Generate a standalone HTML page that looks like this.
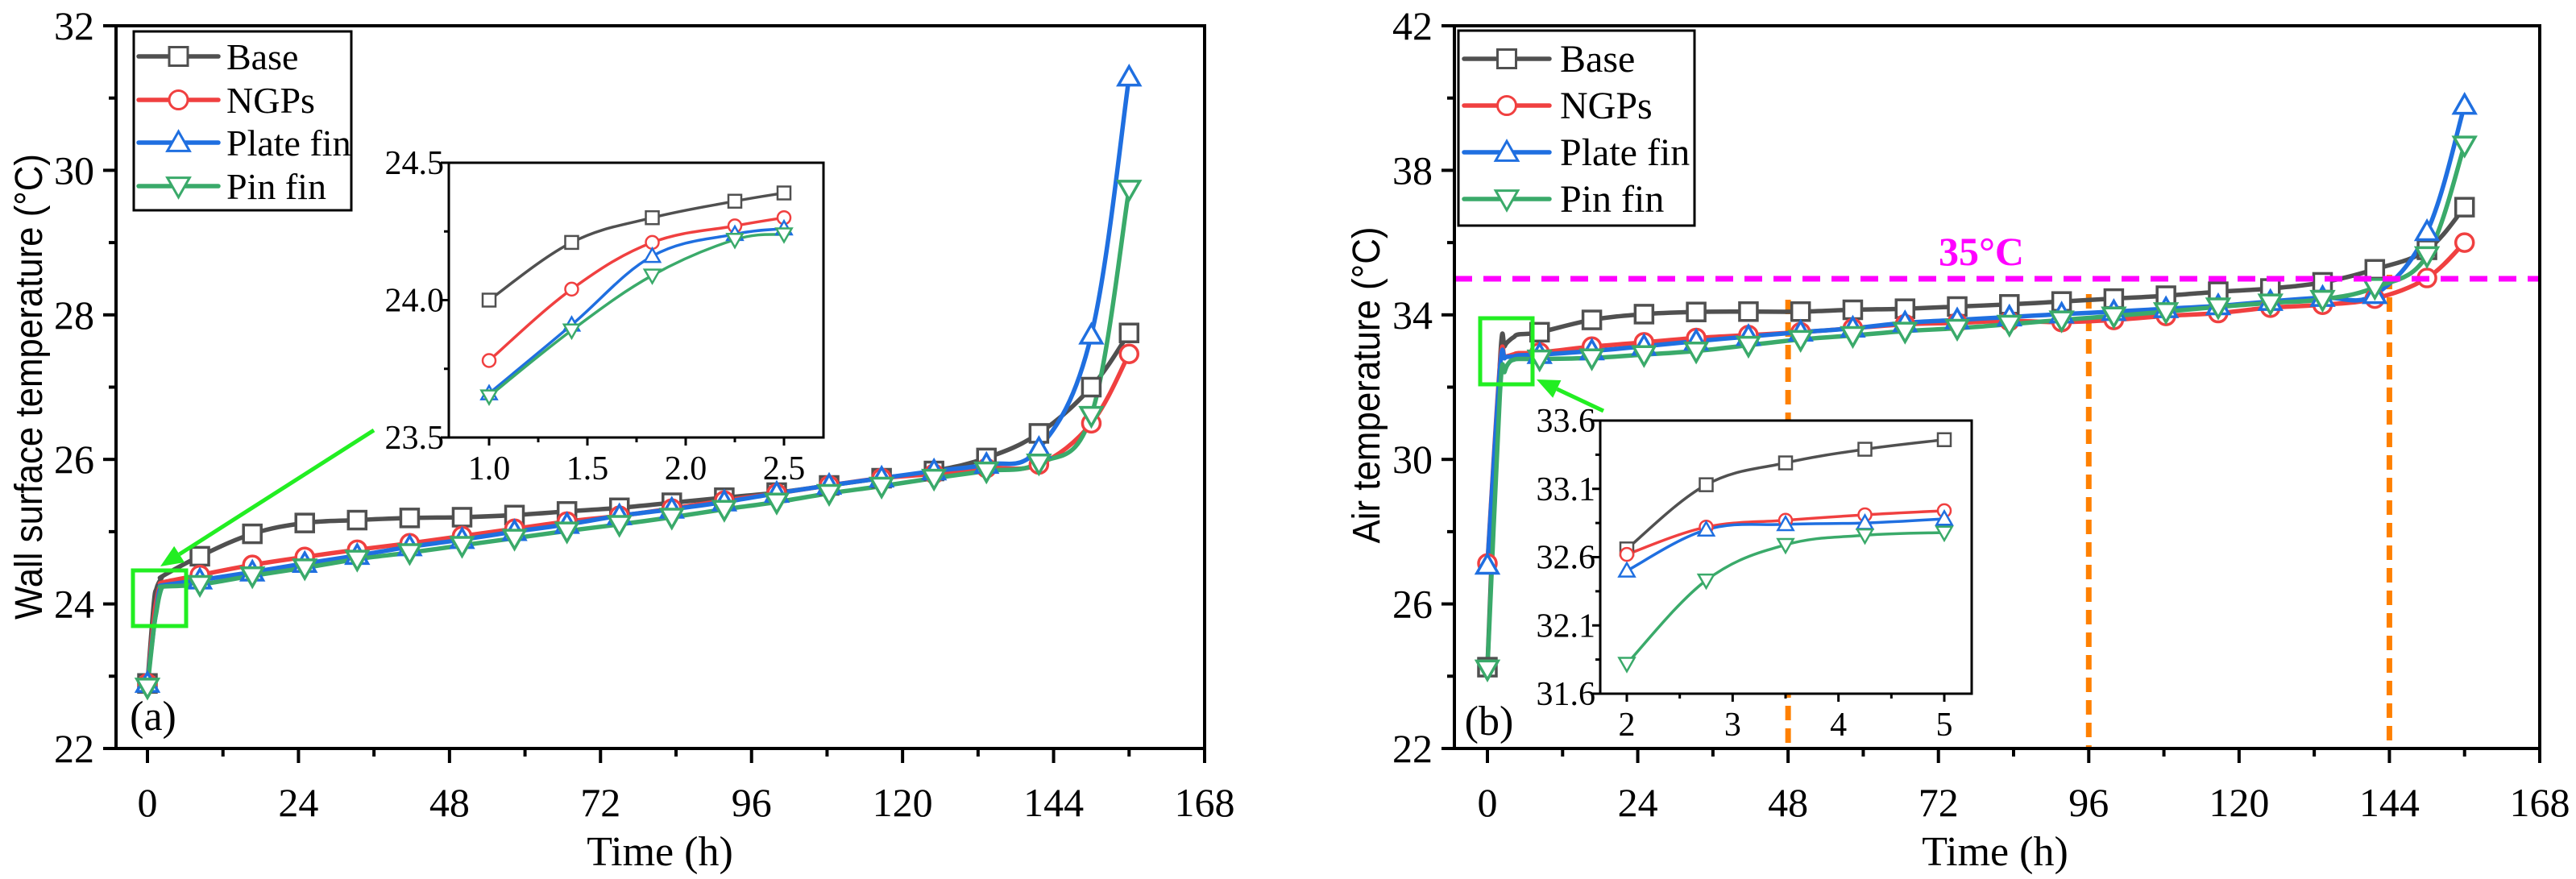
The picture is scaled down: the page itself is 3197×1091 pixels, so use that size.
<!DOCTYPE html>
<html><head><meta charset="utf-8"><style>
html,body{margin:0;padding:0;background:#fff}
svg{display:block}
text{font-family:"Liberation Serif",serif;fill:#000}
</style></head><body>
<svg id="chart" xmlns="http://www.w3.org/2000/svg" width="3197" height="1091" viewBox="0 0 3197 1091"></svg>
<script>
// ---------- data ----------
const seriesNames = ["Base","NGPs","Plate fin","Pin fin"];
const seriesColors = ["#505050","#f04040","#1f6fe0","#3aaa6a"];
const markerShapes = ["square","circle","up","down"];
// main time points (h); markers drawn at marker times
const markerT = [0,8.33,16.67,25,33.33,41.67,50,58.33,66.67,75,83.33,91.67,100,108.33,116.67,125,133.33,141.67,150,156];
// (a) wall surface temperature
const earlyTA = [1.0,1.42,1.83,2.25,2.5];
const wallBaseEarly = [24.0,24.21,24.30,24.36,24.39];
const wallNgpEarly = [23.78,24.04,24.21,24.27,24.30];
const wallPlateEarly = [23.66,23.91,24.16,24.24,24.26];
const wallPinEarly = [23.65,23.89,24.09,24.22,24.24];
const wallBase = [22.9,24.66,24.97,25.12,25.16,25.19,25.2,25.23,25.28,25.33,25.40,25.47,25.54,25.64,25.74,25.84,26.02,26.36,27.0,27.75];
const wallNgp = [22.9,24.40,24.54,24.65,24.75,24.84,24.94,25.04,25.14,25.22,25.32,25.43,25.53,25.64,25.74,25.80,25.88,25.93,26.5,27.46];
const wallPlate = [22.9,24.33,24.44,24.56,24.67,24.79,24.89,25.0,25.1,25.22,25.31,25.41,25.53,25.64,25.74,25.84,25.93,26.15,27.72,31.29];
const wallPin = [22.85,24.27,24.39,24.50,24.62,24.71,24.81,24.91,25.01,25.10,25.20,25.31,25.41,25.53,25.63,25.74,25.84,25.95,26.61,29.74];
// (b) air temperature
const earlyTB = [2,2.75,3.5,4.25,5];
const airBaseEarly = [32.66,33.13,33.29,33.39,33.46];
const airNgpEarly = [32.62,32.82,32.87,32.91,32.94];
const airPlateEarly = [32.50,32.80,32.84,32.85,32.88];
const airPinEarly = [31.82,32.43,32.69,32.76,32.78];
const airBase = [24.25,33.52,33.86,34.02,34.08,34.09,34.09,34.14,34.17,34.23,34.29,34.37,34.45,34.53,34.64,34.73,34.9,35.26,35.8,36.98];
const airNgp = [27.12,32.96,33.12,33.24,33.36,33.44,33.52,33.63,33.74,33.78,33.83,33.80,33.86,33.97,34.05,34.2,34.28,34.45,35.02,36.0];
const airPlate = [27.07,32.9,33.0,33.13,33.27,33.4,33.52,33.63,33.78,33.86,33.94,34.02,34.09,34.17,34.25,34.37,34.48,34.56,36.3,39.8];
const airPin = [24.2,32.78,32.81,32.9,33.0,33.16,33.32,33.43,33.55,33.63,33.74,33.86,33.97,34.09,34.22,34.33,34.43,34.76,35.64,38.7];
const xTicksMain = [0,24,48,72,96,120,144,168];
const yTicksA = [22,24,26,28,30,32];
const yTicksB = [22,26,30,34,38,42];
const insetXTicksA = ["1.0","1.5","2.0","2.5"];
const insetYTicksA = ["23.5","24.0","24.5"];
const insetXTicksB = ["2","3","4","5"];
const insetYTicksB = ["31.6","32.1","32.6","33.1","33.6"];
const thresholdTemp = [35];
const markLines = [48,96,144];

// ---------- helpers ----------
const NS="http://www.w3.org/2000/svg";
const svg=document.getElementById('chart');
function mk(tag,attrs,parent){const e=document.createElementNS(NS,tag);for(const k in attrs)e.setAttribute(k,attrs[k]);(parent||svg).appendChild(e);return e;}
function lin(d0,d1,r0,r1){return v=>r0+(v-d0)*(r1-r0)/(d1-d0);}
function smoothPath(pts){
  let d='M'+pts[0][0].toFixed(1)+','+pts[0][1].toFixed(1);
  for(let i=0;i<pts.length-1;i++){
    const p0=pts[Math.max(0,i-1)],p1=pts[i],p2=pts[i+1],p3=pts[Math.min(pts.length-1,i+2)];
    const t=0.18;
    const c1=[p1[0]+(p2[0]-p0[0])*t,p1[1]+(p2[1]-p0[1])*t];
    const c2=[p2[0]-(p3[0]-p1[0])*t,p2[1]-(p3[1]-p1[1])*t];
    d+=' C'+c1.map(v=>v.toFixed(1)).join(',')+' '+c2.map(v=>v.toFixed(1)).join(',')+' '+p2[0].toFixed(1)+','+p2[1].toFixed(1);
  }
  return d;
}
function marker(g,shape,x,y,s,color,sw){
  let e;
  if(shape==='square')e=mk('rect',{x:x-s/2,y:y-s/2,width:s,height:s,fill:'#fff',stroke:color,'stroke-width':sw},g);
  else if(shape==='circle')e=mk('circle',{cx:x,cy:y,r:s/2,fill:'#fff',stroke:color,'stroke-width':sw},g);
  else if(shape==='up')e=mk('polygon',{points:`${x},${y-s*0.6} ${x-s*0.6},${y+s*0.45} ${x+s*0.6},${y+s*0.45}`,fill:'#fff',stroke:color,'stroke-width':sw},g);
  else e=mk('polygon',{points:`${x},${y+s*0.6} ${x-s*0.6},${y-s*0.45} ${x+s*0.6},${y-s*0.45}`,fill:'#fff',stroke:color,'stroke-width':sw},g);
  
  
  return e;
}
function frame(x0,y0,x1,y1,name,sw){
  const r=mk('rect',{x:x0,y:y0,width:x1-x0,height:y1-y0,fill:'none',stroke:'#000','stroke-width':sw});
  
  
}

// ---------- main panel ----------
function panel(cfg){
  const X=lin(0,168,cfg.x0h,cfg.x168), Y=lin(cfg.ymin,cfg.ymax,929,32);
  const L=cfg.left,R=cfg.right,T=32,B=929;
  // reference lines
  if(cfg.refs){
    markLines.forEach(h=>{
      const l=mk('line',{x1:X(h),x2:X(h),y1:cfg.refTop[h],y2:B,stroke:'#ff8000','stroke-width':7,'stroke-dasharray':'18,10'});
      
      
    });
  }
  const g=mk('g',{});
  
  
  cfg.series.forEach((vals,si)=>{
    const early=cfg.early[si];
    const pts=[[X(markerT[0]),Y(vals[0])]];
    cfg.earlyT.forEach((t,k)=>pts.push([X(t),Y(early[k])]));
    for(let i=1;i<markerT.length;i++)pts.push([X(markerT[i]),Y(vals[i])]);
    const p=mk('path',{d:smoothPath(pts),fill:'none',stroke:seriesColors[si],'stroke-width':5.5,'stroke-linejoin':'round'},g);
    
    
  });
  cfg.series.forEach((vals,si)=>{
    vals.forEach((v,i)=>marker(g,markerShapes[si],X(markerT[i]),Y(v),22,seriesColors[si],3.5));
  });
  if(cfg.refs){
    thresholdTemp.forEach(tv=>{
      const l=mk('line',{x1:L,x2:R,y1:Y(tv),y2:Y(tv),stroke:'#ff00ff','stroke-width':7,'stroke-dasharray':'22,14'});
      
      
      const t=mk('text',{x:2459,y:Y(tv)-17,'text-anchor':'middle','font-size':50,'font-weight':'bold',style:'fill:#ff00ff'});
      t.textContent=tv+'°C';
      
      
    });
  }
  frame(L,T,R,B,cfg.id+'-plot-frame',4);
  // x ticks
  xTicksMain.forEach(v=>{
    mk('line',{x1:X(v),x2:X(v),y1:B,y2:B+18,stroke:'#000','stroke-width':4});
    const t=mk('text',{x:X(v),y:1013,'text-anchor':'middle','font-size':50});
    t.textContent=v;
    
    
  });
  for(let v=12;v<168;v+=24)mk('line',{x1:X(v),x2:X(v),y1:B,y2:B+10,stroke:'#000','stroke-width':4});
  cfg.yTicks.forEach(v=>{
    mk('line',{x1:L-16,x2:L,y1:Y(v),y2:Y(v),stroke:'#000','stroke-width':4});
    const t=mk('text',{x:L-27,y:Y(v)+17,'text-anchor':'end','font-size':50});
    t.textContent=v;
    
    
  });
  const st=(cfg.yTicks[1]-cfg.yTicks[0])/2;
  for(let v=cfg.ymin+st;v<cfg.ymax;v+=2*st)mk('line',{x1:L-9,x2:L,y1:Y(v),y2:Y(v),stroke:'#000','stroke-width':4});
  const xt=mk('text',{x:cfg.xTitleX,y:1074,'text-anchor':'middle','font-size':52});
  xt.textContent='Time (h)';
  
  
  const yt=mk('text',{x:0,y:0,'text-anchor':'middle','font-size':48,transform:`translate(${cfg.yTitleX},${cfg.yTitleY}) rotate(-90)`,style:'font-family:"Liberation Sans",sans-serif',textLength:cfg.yTitleLen,lengthAdjust:'spacingAndGlyphs'});
  yt.textContent=cfg.yTitle;
  
  
  const pl=mk('text',{x:cfg.labelX,y:cfg.labelY,'text-anchor':'middle','font-size':52});
  pl.textContent=cfg.label;
  
  
  // legend
  const lg=mk('g',{});
  
  
  const lb=cfg.legend;
  mk('rect',{x:lb.x0,y:lb.y0,width:lb.x1-lb.x0,height:lb.y1-lb.y0,fill:'#fff',stroke:'#000','stroke-width':3},lg);
  seriesNames.forEach((n,i)=>{
    const y=lb.ys[i];
    const e=mk('g',{},lg);
    
    
    mk('line',{x1:lb.lx0,x2:lb.lx1,y1:y,y2:y,stroke:seriesColors[i],'stroke-width':5.5,'stroke-linecap':'round'},e);
    marker(e,markerShapes[i],(lb.lx0+lb.lx1)/2,y,23,seriesColors[i],3);
    const t=mk('text',{x:lb.tx,y:y+16,'font-size':lb.fs},e);
    t.textContent=n;
  });
  // zoom box and arrow
  const zb=cfg.zoomBox;
  const zr=mk('rect',{x:zb[0],y:zb[1],width:zb[2]-zb[0],height:zb[3]-zb[1],fill:'none',stroke:'#22ee22','stroke-width':5});
  
  
  const a=cfg.arrow;
  const ang=Math.atan2(a[3]-a[1],a[2]-a[0]);
  const hx=a[2]-28*Math.cos(ang),hy=a[3]-28*Math.sin(ang);
  const ar=mk('g',{});
  
  
  mk('line',{x1:a[0],y1:a[1],x2:hx,y2:hy,stroke:'#22ee22','stroke-width':5},ar);
  const px=-Math.sin(ang)*12,py=Math.cos(ang)*12;
  mk('polygon',{points:`${a[2]},${a[3]} ${hx+px},${hy+py} ${hx-px},${hy-py}`,fill:'#22ee22'},ar);
}

// ---------- inset ----------
function inset(cfg){
  const X=lin(cfg.xd[0],cfg.xd[1],cfg.xr[0],cfg.xr[1]), Y=lin(cfg.yd[0],cfg.yd[1],cfg.y1,cfg.y0);
  const bg=mk('rect',{x:cfg.x0,y:cfg.y0,width:cfg.x1-cfg.x0,height:cfg.y1-cfg.y0,fill:'#fff'});
  
  
  const g=mk('g',{});
  
  
  cfg.series.forEach((vals,si)=>{
    const pts=vals.map((v,i)=>[X(cfg.t[i]),Y(v)]);
    const p=mk('path',{d:smoothPath(pts),fill:'none',stroke:seriesColors[si],'stroke-width':3.5},g);
    
    
  });
  cfg.series.forEach((vals,si)=>vals.forEach((v,i)=>marker(g,markerShapes[si],X(cfg.t[i]),Y(v),16,seriesColors[si],2.5)));
  frame(cfg.x0,cfg.y0,cfg.x1,cfg.y1,cfg.id+'-frame',3);
  cfg.xTicks.forEach(s=>{
    const v=parseFloat(s);
    mk('line',{x1:X(v),x2:X(v),y1:cfg.y1,y2:cfg.y1+10,stroke:'#000','stroke-width':3});
    const t=mk('text',{x:X(v),y:cfg.y1+52,'text-anchor':'middle','font-size':cfg.fs});
    t.textContent=s;
    
    
  });
  cfg.xMinor.forEach(v=>mk('line',{x1:X(v),x2:X(v),y1:cfg.y1,y2:cfg.y1+6,stroke:'#000','stroke-width':3}));
  cfg.yTicks.forEach(s=>{
    const v=parseFloat(s);
    mk('line',{x1:cfg.x0-10,x2:cfg.x0,y1:Y(v),y2:Y(v),stroke:'#000','stroke-width':3});
    const t=mk('text',{x:cfg.x0-6,y:Y(v)+14,'text-anchor':'end','font-size':cfg.fs});
    t.textContent=s;
    
    
  });
  cfg.yMinor.forEach(v=>mk('line',{x1:cfg.x0-6,x2:cfg.x0,y1:Y(v),y2:Y(v),stroke:'#000','stroke-width':3}));
}

panel({id:'panel-a',left:144,right:1495,x0h:183,x168:1495,ymin:22,ymax:32,yTicks:yTicksA,
  series:[wallBase,wallNgp,wallPlate,wallPin],early:[wallBaseEarly,wallNgpEarly,wallPlateEarly,wallPinEarly],earlyT:earlyTA,
  xTitleX:819,yTitleX:52,yTitleY:480,yTitleLen:578,yTitle:'Wall surface temperature (°C)',label:'(a)',labelX:190,labelY:906,
  legend:{x0:166,y0:39,x1:436,y1:261,ys:[70,124,177,231],lx0:172,lx1:271,tx:281,fs:46},
  zoomBox:[165,708,231,777],arrow:[464,534,199,703]});
panel({id:'panel-b',left:1805,right:3152,x0h:1846,x168:3152,ymin:22,ymax:42,yTicks:yTicksB,refs:true,refTop:{48:372,96:365,144:341},
  series:[airBase,airNgp,airPlate,airPin],early:[airBaseEarly,airNgpEarly,airPlateEarly,airPinEarly],earlyT:earlyTB,
  xTitleX:2476,yTitleX:1712,yTitleY:478,yTitleLen:393,yTitle:'Air temperature (°C)',label:'(b)',labelX:1848,labelY:912,
  legend:{x0:1810,y0:38,x1:2103,y1:280,ys:[73,131,189,247],lx0:1817,lx1:1923,tx:1936,fs:48},
  zoomBox:[1837,395,1902,477],arrow:[1990,510,1907,471]});
inset({id:'inset-a',x0:557,x1:1022,y0:202,y1:543,xd:[1.0,2.5],xr:[607,973],yd:[23.5,24.5],t:earlyTA,
  series:[wallBaseEarly,wallNgpEarly,wallPlateEarly,wallPinEarly],xTicks:insetXTicksA,xMinor:[1.25,1.75,2.25],yTicks:insetYTicksA,yMinor:[23.75,24.25],fs:42});
inset({id:'inset-b',x0:1986,x1:2447,y0:522,y1:861,xd:[2,5],xr:[2019,2413],yd:[31.6,33.6],t:earlyTB,
  series:[airBaseEarly,airNgpEarly,airPlateEarly,airPinEarly],xTicks:insetXTicksB,xMinor:[2.5,3.5,4.5],yTicks:insetYTicksB,yMinor:[31.85,32.35,32.85,33.35],fs:42});
</script>
</body></html>
